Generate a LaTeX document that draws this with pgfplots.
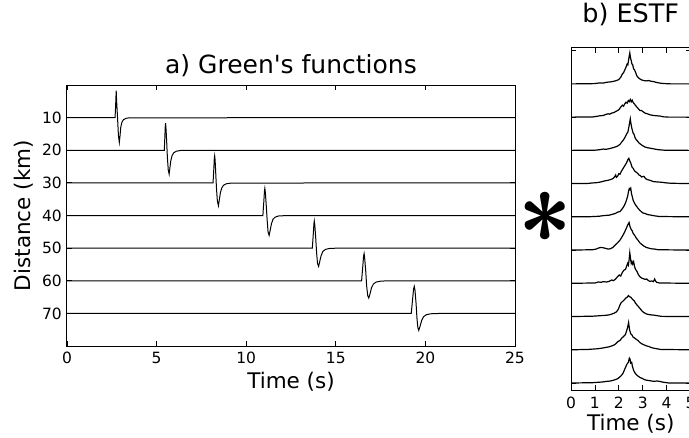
\documentclass[border=0pt]{standalone}
\usepackage{fontspec}
\setmainfont{DejaVu Sans}
\newfontfamily\dv{DejaVu Sans}
\usepackage{pgfplots}
\usepackage{pgfplotstable}
\pgfplotsset{compat=1.18}
\newsavebox{\astbox}

\pgfplotstableread{
t a
0 0
0.8 0.005
1.0 0.01
1.2 0.03
1.35 0.025
1.5 0.05
1.65 0.06
1.8 0.08
1.9 0.1
2.0 0.13
2.08 0.2
2.15 0.3
2.2 0.34
2.25 0.42
2.3 0.5
2.35 0.6
2.38 0.58
2.41 0.72
2.44 0.85
2.46 0.93
2.49 0.78
2.52 0.7
2.55 0.6
2.58 0.58
2.62 0.45
2.66 0.42
2.70 0.35
2.75 0.25
2.8 0.2
2.86 0.16
2.95 0.12
3.05 0.1
3.15 0.09
3.25 0.1
3.35 0.08
3.45 0.07
3.6 0.04
3.75 0.02
3.9 0.01
4.2 0
5 0
}\estfA
\pgfplotstableread{
t a
0 0
0.9 0.005
1.05 0.02
1.2 0.04
1.35 0.05
1.45 0.08
1.55 0.1
1.62 0.09
1.7 0.12
1.8 0.14
1.9 0.18
2.0 0.22
2.08 0.3
2.15 0.36
2.2 0.33
2.25 0.4
2.3 0.45
2.35 0.42
2.4 0.5
2.44 0.47
2.48 0.53
2.52 0.46
2.56 0.51
2.6 0.44
2.65 0.4
2.7 0.35
2.76 0.3
2.82 0.25
2.88 0.2
2.95 0.2
3.0 0.17
3.1 0.12
3.2 0.1
3.3 0.07
3.45 0.05
3.6 0.04
3.75 0.03
3.85 0.01
4.1 0
5 0
}\estfB
\pgfplotstableread{
t a
0 0
1.0 0.005
1.2 0.02
1.35 0.04
1.45 0.03
1.6 0.05
1.75 0.08
1.85 0.1
1.95 0.13
2.05 0.18
2.12 0.25
2.2 0.32
2.28 0.42
2.33 0.5
2.38 0.55
2.42 0.7
2.45 0.82
2.48 0.95
2.51 0.8
2.54 0.68
2.57 0.6
2.6 0.52
2.64 0.48
2.68 0.38
2.72 0.33
2.78 0.28
2.85 0.22
2.92 0.18
3.0 0.14
3.1 0.1
3.2 0.08
3.35 0.06
3.5 0.04
3.65 0.02
3.9 0.005
5 0
}\estfC
\pgfplotstableread{
t a
0 0
0.7 0.005
0.9 0.02
1.1 0.03
1.25 0.05
1.4 0.08
1.55 0.1
1.65 0.12
1.75 0.15
1.82 0.2
1.87 0.26
1.9 0.19
1.95 0.22
2.0 0.3
2.05 0.28
2.1 0.36
2.15 0.42
2.2 0.48
2.26 0.55
2.32 0.62
2.38 0.72
2.42 0.76
2.46 0.68
2.5 0.62
2.55 0.5
2.6 0.46
2.66 0.38
2.72 0.35
2.8 0.3
2.86 0.25
2.9 0.24
2.95 0.2
3.05 0.22
3.12 0.15
3.2 0.12
3.3 0.1
3.45 0.06
3.6 0.05
3.8 0.04
4.0 0.02
4.2 0.01
5 0
}\estfD
\pgfplotstableread{
t a
0 0
0.8 0.005
1.0 0.01
1.2 0.02
1.4 0.04
1.6 0.05
1.75 0.08
1.85 0.1
1.95 0.14
2.05 0.16
2.12 0.22
2.2 0.3
2.27 0.4
2.32 0.5
2.37 0.62
2.41 0.78
2.44 0.85
2.47 0.82
2.5 0.86
2.53 0.7
2.56 0.62
2.6 0.5
2.65 0.42
2.7 0.36
2.78 0.28
2.85 0.22
2.92 0.17
3.0 0.12
3.1 0.1
3.2 0.07
3.35 0.05
3.5 0.03
3.7 0.01
5 0
}\estfE
\pgfplotstableread{
t a
0 0
0.9 0.01
1.05 0.03
1.15 0.06
1.25 0.08
1.35 0.07
1.45 0.05
1.55 0.03
1.65 0.04
1.75 0.08
1.85 0.15
1.95 0.22
2.05 0.3
2.12 0.38
2.2 0.48
2.28 0.6
2.34 0.7
2.39 0.78
2.43 0.83
2.47 0.7
2.52 0.62
2.56 0.58
2.6 0.5
2.66 0.45
2.72 0.37
2.8 0.3
2.88 0.22
2.96 0.17
3.05 0.12
3.15 0.08
3.25 0.06
3.35 0.04
3.5 0.03
3.65 0.01
5 0
}\estfF
\pgfplotstableread{
t a
0 0
1.0 0.01
1.15 0.04
1.25 0.03
1.35 0.05
1.5 0.04
1.6 0.06
1.7 0.1
1.78 0.08
1.85 0.12
1.95 0.2
2.02 0.25
2.08 0.22
2.15 0.33
2.22 0.4
2.28 0.42
2.32 0.5
2.37 0.6
2.4 0.55
2.43 0.7
2.46 0.92
2.49 0.75
2.52 0.6
2.55 0.65
2.58 0.58
2.62 0.65
2.66 0.5
2.7 0.42
2.76 0.36
2.82 0.26
2.88 0.2
2.95 0.16
3.02 0.14
3.1 0.12
3.17 0.13
3.24 0.08
3.3 0.06
3.38 0.07
3.45 0.05
3.5 0.13
3.53 0.08
3.58 0.03
3.7 0.01
5 0
}\estfG
\pgfplotstableread{
t a
0 0
0.9 0.01
1.1 0.02
1.3 0.03
1.5 0.04
1.65 0.06
1.8 0.1
1.9 0.14
1.98 0.22
2.05 0.35
2.1 0.42
2.15 0.45
2.2 0.48
2.25 0.52
2.3 0.56
2.35 0.58
2.4 0.63
2.45 0.6
2.5 0.58
2.55 0.54
2.6 0.5
2.65 0.47
2.7 0.4
2.76 0.35
2.82 0.3
2.9 0.23
2.98 0.16
3.05 0.12
3.15 0.08
3.25 0.06
3.35 0.05
3.5 0.04
3.65 0.02
3.8 0.005
5 0
}\estfH
\pgfplotstableread{
t a
0 0
0.7 0.01
0.9 0.02
1.1 0.03
1.3 0.05
1.45 0.07
1.6 0.09
1.72 0.12
1.82 0.15
1.9 0.2
1.97 0.25
2.05 0.28
2.12 0.35
2.2 0.4
2.27 0.45
2.32 0.55
2.37 0.68
2.41 0.82
2.45 0.6
2.5 0.48
2.55 0.45
2.6 0.38
2.65 0.36
2.72 0.32
2.8 0.28
2.88 0.22
2.96 0.18
3.05 0.15
3.15 0.12
3.25 0.1
3.35 0.07
3.45 0.05
3.6 0.03
3.75 0.01
5 0
}\estfI
\pgfplotstableread{
t a
0 0
0.9 0.01
1.1 0.02
1.3 0.03
1.5 0.05
1.65 0.06
1.75 0.08
1.85 0.1
1.95 0.13
2.02 0.17
2.1 0.22
2.18 0.3
2.25 0.42
2.3 0.5
2.35 0.58
2.4 0.62
2.44 0.75
2.47 0.72
2.5 0.6
2.54 0.62
2.57 0.5
2.62 0.38
2.68 0.3
2.75 0.24
2.82 0.2
2.9 0.16
2.98 0.14
3.08 0.1
3.2 0.08
3.3 0.07
3.45 0.05
3.6 0.06
3.7 0.05
3.82 0.03
3.95 0.015
4.1 0
5 0
}\estfJ

\begin{document}
\sbox{\astbox}{\usefont{TU}{lmr}{b}{n}\fontsize{107}{107}\selectfont *}%
\begin{tikzpicture}
\useasboundingbox (0,0) rectangle (689pt,437pt);
\clip (0,0) rectangle (689pt,437pt);
\pgfplotsset{
  every axis/.append style={
    scale only axis,
    axis line style={line width=1pt},
    every tick/.style={black,line width=0.8pt},
    major tick length=5pt,
    tick label style={font=\fontsize{15.5}{18}\selectfont, inner sep=0pt},
    label style={font=\fontsize{21.5}{24}\selectfont},
    /pgf/number format/assume math mode=true,
    clip=true,
  }
}
% ---------- a) Green's functions ----------
\begin{axis}[
  at={(67pt,91pt)}, anchor=south west,
  width=448pt, height=261pt,
  xmin=0, xmax=25, ymin=0, ymax=80, y dir=reverse,
  xtick={0,5,10,15,20,25}, ytick={10,20,30,40,50,60,70},
  xticklabel style={anchor=north, yshift=-6pt},
  yticklabel style={anchor=east, xshift=-5pt},
  xlabel={Time (s)}, ylabel={Distance (km)},
  xlabel style={at={(axis description cs:0.5,0)}, anchor=center, yshift=-36pt},
  ylabel style={at={(axis description cs:-0.096,0.5)}, anchor=center},
  title={\dv a) Green's functions},
  title style={at={(axis description cs:0.5,1)}, anchor=south, inner sep=0pt, yshift=2pt, font=\fontsize{25}{28}\selectfont},
]
\addplot[black, line width=1pt] coordinates {(0,10) (2.68,10) (2.71,7) (2.745,1.7) (2.77,5) (2.82,10) (2.87,15.5) (2.92,17.6) (2.96,15.5) (3.0,13) (3.06,11.5) (3.15,10.6) (3.3,10.2) (3.5,10.05) (25,10)};
\addplot[black, line width=1pt] coordinates {(0,20) (5.43,20) (5.46,16) (5.485,12.5) (5.50,11.7) (5.52,13) (5.56,17) (5.60,22) (5.65,26) (5.70,27.3) (5.74,25.5) (5.79,23.3) (5.86,21.7) (5.95,20.8) (6.1,20.3) (6.35,20.05) (25,20)};
\addplot[black, line width=1pt] coordinates {(0,30) (8.15,30) (8.19,26) (8.22,22.5) (8.24,21.7) (8.265,23) (8.30,27) (8.34,31.5) (8.39,35.5) (8.45,37) (8.50,35.2) (8.56,33) (8.64,31.5) (8.74,30.7) (8.9,30.25) (9.2,30.05) (25,30)};
\addplot[black, line width=1pt] coordinates {(0,40) (10.93,40) (10.98,36) (11.02,32.5) (11.04,31.7) (11.07,33) (11.12,37) (11.17,41.5) (11.22,45) (11.28,46.1) (11.34,44.5) (11.41,42.5) (11.50,41.1) (11.62,40.5) (11.8,40.15) (12.2,40.03) (25,40)};
\addplot[black, line width=1pt] coordinates {(0,50) (13.69,50) (13.74,46) (13.78,42.5) (13.80,41.7) (13.83,43) (13.88,47) (13.93,51.5) (13.98,54.7) (14.04,55.6) (14.10,54.2) (14.18,52.3) (14.28,51) (14.42,50.4) (14.62,50.12) (15.0,50.02) (25,50)};
\addplot[black, line width=1pt] coordinates {(0,60) (16.44,60) (16.50,56) (16.55,52.5) (16.58,51.7) (16.61,53) (16.67,57) (16.72,61.5) (16.78,64.5) (16.84,65.3) (16.91,64) (16.99,62.2) (17.1,61) (17.25,60.4) (17.5,60.12) (17.9,60.02) (25,60)};
\addplot[black, line width=1pt] coordinates {(0,70) (19.21,70) (19.28,66) (19.34,62.5) (19.38,61.7) (19.42,63) (19.48,67) (19.53,71.5) (19.58,74.4) (19.63,75.2) (19.70,74) (19.79,72.2) (19.9,71) (20.06,70.4) (20.3,70.12) (20.8,70.02) (25,70)};
\end{axis}
% ---------- b) ESTF ----------
\begin{axis}[
  at={(571pt,47pt)}, anchor=south west,
  width=119.5pt, height=342pt,
  xmin=0, xmax=5, ymin=-0.21, ymax=10.08,
  xtick={0,1,2,3,4,5}, ytick={0,2,4,6,8,10}, yticklabels={},
  xticklabel style={anchor=north, yshift=-7pt},
  xlabel={Time (s)},
  xlabel style={at={(axis description cs:0.5,0)}, anchor=center, yshift=-34pt},
  title={b) ESTF},
  title style={at={(axis description cs:0.5,1)}, anchor=south, inner sep=0pt, yshift=16pt, font=\fontsize{25.5}{28}\selectfont},
]
\addplot[black, line width=1.2pt] table[x=t, y expr=\thisrow{a}+9] {\estfA};
\addplot[black, line width=1.2pt] table[x=t, y expr=\thisrow{a}+8] {\estfB};
\addplot[black, line width=1.2pt] table[x=t, y expr=\thisrow{a}+7] {\estfC};
\addplot[black, line width=1.2pt] table[x=t, y expr=\thisrow{a}+6] {\estfD};
\addplot[black, line width=1.2pt] table[x=t, y expr=\thisrow{a}+5] {\estfE};
\addplot[black, line width=1.2pt] table[x=t, y expr=\thisrow{a}+4] {\estfF};
\addplot[black, line width=1.2pt] table[x=t, y expr=\thisrow{a}+3] {\estfG};
\addplot[black, line width=1.2pt] table[x=t, y expr=\thisrow{a}+2] {\estfH};
\addplot[black, line width=1.2pt] table[x=t, y expr=\thisrow{a}+1] {\estfI};
\addplot[black, line width=1.2pt] table[x=t, y expr=\thisrow{a}+0] {\estfJ};
\end{axis}
\node[inner sep=0pt, anchor=center] at (545.5pt,204.5pt) {\usebox{\astbox}};
\end{tikzpicture}
\end{document}
